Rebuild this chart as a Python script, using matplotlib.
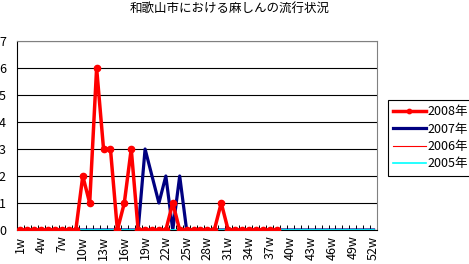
import numpy as np
import matplotlib
matplotlib.use('Agg')
import matplotlib.pyplot as plt

plt.rcParams['font.family'] = ['Noto Sans CJK JP', 'DejaVu Sans']

# weekly counts (week 1 .. 52)
weeks = list(range(1, 53))
y2008 = [0, 0, 0, 0, 0, 0, 0, 0, 0, 2, 1, 6, 3, 3, 0, 1, 3, 0, 0, 0,
         0, 0, 1, 0, 0, 0, 0, 0, 0, 1, 0, 0, 0, 0, 0, 0, 0, 0]
y2007 = [0, 0, 0, 0, 0, 0, 0, 0, 0, 0, 0, 0, 0, 0, 0, 0, 0, 0, 3, 2,
         1, 2, 0, 2, 0, 0, 0, 0, 0, 0, 0, 0, 0, 0, 0, 0, 0, 0, 0, 0,
         0, 0, 0, 0, 0, 0, 0, 0, 0, 0, 0, 0]
y2006 = [0] * 52
y2005 = [0] * 52
label_weeks = [1, 4, 7, 10, 13, 16, 19, 22, 25, 28, 31, 34, 37, 40, 43, 46, 49, 52]
label_text = ['1w', '4w', '7w', '10w', '13w', '16w', '19w', '22w', '25w', '28w',
              '31w', '34w', '37w', '40w', '43w', '46w', '49w', '52w']

fig = plt.figure(figsize=(4.69, 2.64), dpi=100)
ax = fig.add_axes([17 / 469, 1 - 230 / 264, 360 / 469, 189 / 264])

l06, = ax.plot(weeks, y2006, color='#ff0000', lw=0.8, zorder=2)
l07, = ax.plot(weeks, y2007, color='#000080', lw=2.3, zorder=3)
l05, = ax.plot(weeks, y2005, color='#00ffff', lw=1.2, zorder=4)
l08, = ax.plot(weeks[:len(y2008)], y2008, color='#ff0000', lw=2.5,
               marker='o', ms=4.5, zorder=5)

ax.set_xlim(0.5, 52.5)
ax.set_ylim(0, 7)
ax.set_yticks(range(0, 8))
ax.yaxis.grid(True, color='black', lw=0.8)
ax.set_axisbelow(True)
ax.tick_params(axis='y', length=0, pad=8, labelsize=9)

ax.set_xticks(label_weeks)
ax.set_xticklabels(label_text, rotation=90, fontsize=9)
ax.tick_params(axis='x', which='major', length=0, pad=4)
ax.set_xticks(np.arange(0.5, 53, 1), minor=True)
ax.tick_params(axis='x', which='minor', direction='in', length=3.5, width=0.7)

for s in ['top', 'right']:
    ax.spines[s].set_color('#808080')
for s in ['left', 'bottom']:
    ax.spines[s].set_color('black')

fig.text(230 / 469, 1 - 8 / 264, '和歌山市における麻しんの流行状況',
         ha='center', va='center', fontsize=9)

leg = fig.legend([l08, l07, l06, l05], ['2008年', '2007年', '2006年', '2005年'],
                 loc='upper left', bbox_to_anchor=(388 / 469, 1 - 100 / 264),
                 borderaxespad=0, fontsize=9, handlelength=2.6, handletextpad=0.15,
                 labelspacing=0.36, fancybox=False, edgecolor='black',
                 framealpha=1, borderpad=0.4, markerscale=0.7)
leg.get_frame().set_linewidth(0.8)

fig.savefig('out.png', dpi=100)
